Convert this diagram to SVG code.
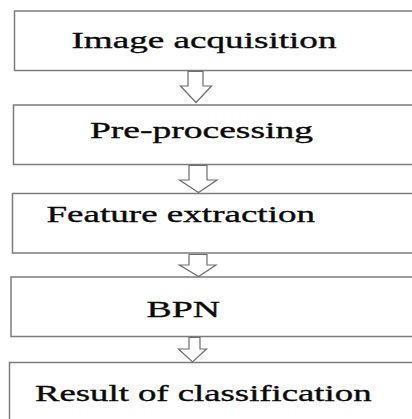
<svg xmlns="http://www.w3.org/2000/svg" width="412" height="419" viewBox="0 0 412 419">
  <style>
    .box { fill: #ffffff; stroke: #7c7c7c; stroke-width: 1.5; }
    .arrow { fill: #ffffff; stroke: #6e6e6e; stroke-width: 1.2; stroke-linejoin: miter; }
    .label { font-size: 23.5px; fill: #0a0a0a; stroke: #0a0a0a; stroke-width: 0.35; }
  </style>
  <rect width="412" height="419" fill="#ffffff"/>

  <!-- process steps; boxes run past the right edge -->
  <g font-family="Liberation Serif, serif">
    <g id="image-acquisition">
      <rect class="box" x="14.5" y="11" width="410" height="59.5"/>
      <text class="label" x="71.5" y="48.3" textLength="265" lengthAdjust="spacingAndGlyphs">Image acquisition</text>
    </g>
    <g id="pre-processing">
      <rect class="box" x="13.5" y="105" width="410" height="59.5"/>
      <text class="label" x="90" y="138" textLength="223" lengthAdjust="spacingAndGlyphs">Pre-processing</text>
    </g>
    <g id="feature-extraction">
      <rect class="box" x="12.5" y="193.5" width="410" height="59.5"/>
      <text class="label" x="46.5" y="222.3" textLength="268.5" lengthAdjust="spacingAndGlyphs">Feature extraction</text>
    </g>
    <g id="bpn">
      <rect class="box" x="11" y="277" width="410" height="59.5"/>
      <text class="label" x="146.5" y="316.7" textLength="73.5" lengthAdjust="spacingAndGlyphs">BPN</text>
    </g>
    <g id="result-of-classification">
      <rect class="box" x="9.5" y="362.5" width="410" height="70"/>
      <text class="label" x="35" y="400.5" textLength="336.5" lengthAdjust="spacingAndGlyphs">Result of classification</text>
    </g>
  </g>

  <!-- hollow block arrows between steps -->
  <g id="connectors">
    <polygon class="arrow" points="188,71.5 203,71.5 203,86 211.5,86 196,102.5 180.5,86 188,86"/>
    <polygon class="arrow" points="189,165.5 207,165.5 207,180 217,180 198.5,192.5 179.5,180 189,180"/>
    <polygon class="arrow" points="189,254.5 207,254.5 207,265 216,265 198.5,276.5 179.5,265 189,265"/>
    <polygon class="arrow" points="189,337.5 200,337.5 200,349 206.5,349 192.5,362 178.5,349 189,349"/>
  </g>
</svg>
